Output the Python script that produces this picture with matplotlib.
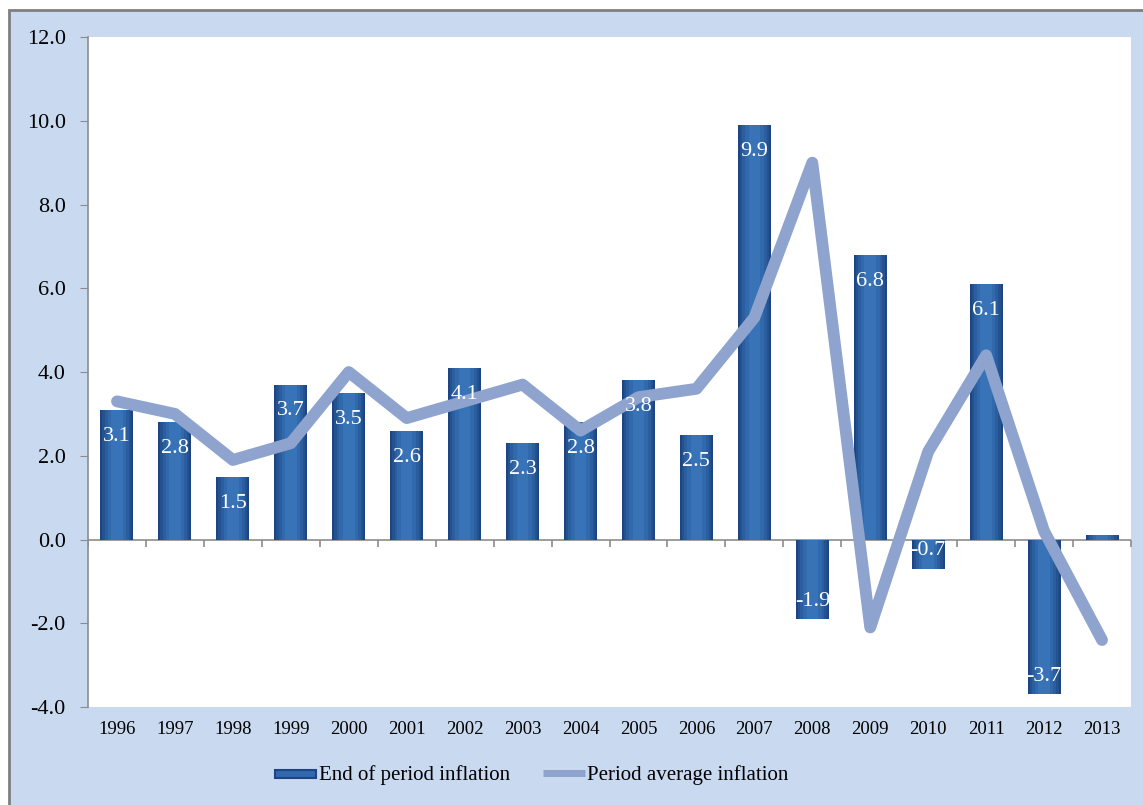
import numpy as np
import matplotlib
matplotlib.use('Agg')
import matplotlib.pyplot as plt
from matplotlib.patches import Rectangle
from matplotlib.lines import Line2D

# Data
years = ['1996', '1997', '1998', '1999', '2000', '2001', '2002', '2003', '2004',
         '2005', '2006', '2007', '2008', '2009', '2010', '2011', '2012', '2013']
end_of_period = [3.1, 2.8, 1.5, 3.7, 3.5, 2.6, 4.1, 2.3, 2.8,
                 3.8, 2.5, 9.9, -1.9, 6.8, -0.7, 6.1, -3.7, 0.1]
period_average = [3.3, 3.0, 1.9, 2.3, 4.0, 2.9, 3.3, 3.7, 2.6,
                  3.4, 3.6, 5.3, 9.0, -2.1, 2.1, 4.4, 0.2, -2.4]

plt.rcParams['font.family'] = ['Liberation Serif', 'DejaVu Serif']

bg = '#c9daf0'
bar_dark = '#1d4583'
line_color = '#8ea3cd'

fig = plt.figure(figsize=(11.43, 8.05), dpi=100)
fig.patch.set_facecolor('white')
# light blue panel with gray border
panel = Rectangle((9 / 1143, -0.01), 1.01, 1 - 10 / 805 + 0.01,
                  transform=fig.transFigure, facecolor=bg,
                  edgecolor='#7f7f7f', linewidth=2, zorder=-5)
fig.patches.append(panel)

ax = fig.add_axes([0.077, 0.1217, 0.9125, 0.8323])
ax.set_facecolor('white')

x = np.arange(len(years))
# layered bars give a rough cylinder shading (dark edges, lighter middle)
shades = [(0.57, bar_dark), (0.50, '#24528f'), (0.42, '#2b5e9f'),
          (0.32, '#3169ad'), (0.20, '#3873b8')]
for w, c in shades:
    ax.bar(x, end_of_period, width=w, color=c, linewidth=0, zorder=2)

line, = ax.plot(x, period_average, color=line_color, linewidth=8.5,
                solid_capstyle='round', solid_joinstyle='round', zorder=3)

for xi, v in zip(x, end_of_period):
    if abs(v) < 0.5:
        continue
    off = -19 if v > 0 else 13
    ax.annotate(f'{v:.1f}', (xi, v), xytext=(0, off), textcoords='offset points',
                ha='center', va='center', color='white', fontsize=16, zorder=4)

# axis at zero with ticks between categories
ax.axhline(0, color='#8c8c8c', linewidth=1.2, zorder=1)
bounds = np.arange(len(years) + 1) - 0.5
ax.plot(bounds, np.zeros_like(bounds), linestyle='none', marker=3,
        markersize=5, color='#8c8c8c', markeredgewidth=1.2, zorder=1)

ax.set_xlim(-0.5, len(years) - 0.5)
ax.set_ylim(-4, 12)
ax.set_yticks(np.arange(-4, 13, 2))
ax.set_yticklabels([f'{t:.1f}' for t in np.arange(-4, 13, 2)])
ax.set_xticks(x)
ax.set_xticklabels(years)
ax.tick_params(axis='x', length=0, labelsize=13.5, pad=10)
ax.tick_params(axis='y', length=6, color='#8c8c8c', labelsize=16, pad=10)

for s in ['top', 'right', 'bottom']:
    ax.spines[s].set_visible(False)
ax.spines['left'].set_color('#8c8c8c')
ax.spines['left'].set_linewidth(1.2)

bar_handle = Rectangle((0, 0), 1, 1, facecolor='#3168ae', edgecolor=bar_dark, linewidth=1.5)
line_handle = Line2D([], [], color=line_color, linewidth=5, solid_capstyle='butt')
leg = fig.legend([bar_handle, line_handle],
                 ['End of period inflation', 'Period average inflation'],
                 loc='center', bbox_to_anchor=(0.465, 0.037), ncol=2, frameon=False,
                 fontsize=15, handlelength=2.0, columnspacing=1.6, handletextpad=0.1)
leg.legend_handles[0].set_height(6)
leg.legend_handles[0].set_y(1.5)

fig.savefig('out.png', dpi=100, facecolor=fig.get_facecolor())
